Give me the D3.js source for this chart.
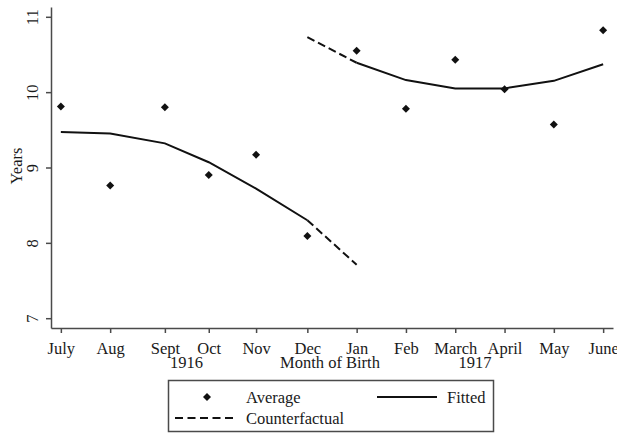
<!DOCTYPE html>
<html>
<head>
<meta charset="utf-8">
<script src="https://cdn.jsdelivr.net/npm/d3@7"></script>
<style>
  body { margin: 0; background: #fff; }
  text { font-family: "Liberation Serif", "DejaVu Serif", serif; fill: #1a1a1a; }
</style>
</head>
<body>
<div id="chart"></div>
<script>
// month positions (months after July 1916) and labels
const months = ["July", "Aug", "Sept", "Oct", "Nov", "Dec", "Jan", "Feb", "March", "April", "May", "June"];
const monthPos = [0, 1, 2.11, 3, 3.96, 5, 6, 7, 8, 9, 10, 11];

// average years of schooling by month of birth
const average = [9.81, 8.76, 9.80, 8.90, 9.17, 8.09, 10.55, 9.78, 10.43, 10.04, 9.57, 10.82];

// fitted lines, before and after the cutoff
const fittedBefore = [9.47, 9.45, 9.32, 9.07, 8.72, 8.30];
const fittedAfter = [10.39, 10.16, 10.05, 10.05, 10.15, 10.37];

// counterfactual extensions across the cutoff (Dec -> Jan)
const cfBefore = [8.30, 7.71];
const cfAfter = [10.73, 10.39];

const yTicks = [7, 8, 9, 10, 11];
const yearLabels = [{ text: "1916", pos: 2.55 }, { text: "1917", pos: 8.4 }];

const width = 617, height = 433;
const svg = d3.select("#chart").append("svg")
    .attr("width", width)
    .attr("height", height);

const x = d3.scaleLinear().domain([-0.2, 11.2]).range([51, 613]);
const y = d3.scaleLinear().domain([6.87, 11.13]).range([328, 7]);

const ink = "#4a4a4a";

// y axis
const yAxis = svg.append("g")
    .attr("transform", "translate(51,0)")
    .call(d3.axisLeft(y).tickValues(yTicks).tickSize(5).tickSizeOuter(0).tickFormat(d3.format("d")));
yAxis.select(".domain").attr("stroke", ink).attr("stroke-width", 1.5);
yAxis.selectAll(".tick line").attr("stroke", ink).attr("stroke-width", 1.5);
yAxis.selectAll(".tick text")
    .attr("x", null).attr("dy", null)
    .attr("transform", "translate(-13,0) rotate(-90)")
    .attr("text-anchor", "middle")
    .style("font-size", "16.5px");

// x axis
const xAxis = svg.append("g")
    .attr("transform", "translate(0,328)")
    .call(d3.axisBottom(x).tickValues(monthPos).tickSize(5).tickSizeOuter(0)
        .tickFormat((d, i) => months[i]));
xAxis.select(".domain").attr("stroke", ink).attr("stroke-width", 1.5);
xAxis.selectAll(".tick line").attr("stroke", ink).attr("stroke-width", 1.5);
xAxis.selectAll(".tick text")
    .attr("y", 26).attr("dy", null)
    .style("font-size", "16.5px");

// second row: years and axis title
svg.selectAll("text.year")
    .data(yearLabels)
    .enter().append("text")
    .attr("class", "year")
    .attr("x", d => x(d.pos))
    .attr("y", 368)
    .attr("text-anchor", "middle")
    .style("font-size", "16.5px")
    .text(d => d.text);

svg.append("text")
    .attr("x", 330)
    .attr("y", 368)
    .attr("text-anchor", "middle")
    .style("font-size", "16.5px")
    .text("Month of Birth");

svg.append("text")
    .attr("transform", "translate(22,166) rotate(-90)")
    .attr("text-anchor", "middle")
    .style("font-size", "16.5px")
    .text("Years");

// lines
const line = d3.line().x(d => x(d[0])).y(d => y(d[1]));

const solid = [
    fittedBefore.map((v, i) => [monthPos[i], v]),
    fittedAfter.map((v, i) => [monthPos[i + 6], v])
];
svg.selectAll("path.fitted")
    .data(solid)
    .enter().append("path")
    .attr("class", "fitted")
    .attr("d", line)
    .attr("fill", "none")
    .attr("stroke", "#111")
    .attr("stroke-width", 2);

const dashed = [
    cfBefore.map((v, i) => [monthPos[i + 5], v]),
    cfAfter.map((v, i) => [monthPos[i + 5], v])
];
svg.selectAll("path.cf")
    .data(dashed)
    .enter().append("path")
    .attr("class", "cf")
    .attr("d", line)
    .attr("fill", "none")
    .attr("stroke", "#111")
    .attr("stroke-width", 2)
    .attr("stroke-dasharray", "8,4");

// average points (diamonds)
const diamond = d3.symbol().type(d3.symbolSquare).size(32);
svg.selectAll("path.avg")
    .data(average)
    .enter().append("path")
    .attr("class", "avg")
    .attr("d", diamond)
    .attr("transform", (d, i) => `translate(${x(monthPos[i])},${y(d)}) rotate(45)`)
    .attr("fill", "#111");

// legend
const lg = svg.append("g");
lg.append("rect")
    .attr("x", 168.5).attr("y", 380.5)
    .attr("width", 325).attr("height", 51)
    .attr("fill", "#fff")
    .attr("stroke", ink)
    .attr("stroke-width", 1.5);
lg.append("path")
    .attr("d", diamond)
    .attr("transform", "translate(207,397) rotate(45)")
    .attr("fill", "#111");
lg.append("text").attr("x", 246).attr("y", 403).style("font-size", "16.5px").text("Average");
lg.append("line")
    .attr("x1", 377).attr("x2", 437).attr("y1", 397).attr("y2", 397)
    .attr("stroke", "#111").attr("stroke-width", 2);
lg.append("text").attr("x", 447).attr("y", 403).style("font-size", "16.5px").text("Fitted");
lg.append("line")
    .attr("x1", 175).attr("x2", 236).attr("y1", 418).attr("y2", 418)
    .attr("stroke", "#111").attr("stroke-width", 2)
    .attr("stroke-dasharray", "8,4.5");
lg.append("text").attr("x", 246).attr("y", 424).style("font-size", "16.5px").text("Counterfactual");
</script>
</body>
</html>
